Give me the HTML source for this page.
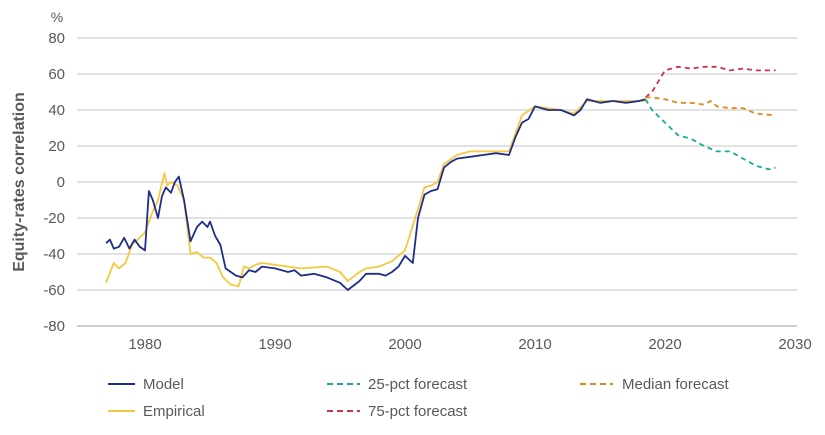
<!DOCTYPE html>
<html><head><meta charset="utf-8"><style>
html,body{margin:0;padding:0;background:#fff;}
svg{display:block;font-family:"Liberation Sans",Arial,sans-serif;}
</style></head><body>
<svg id="s" width="825" height="435" viewBox="0 0 825 435">
<g id="grid" stroke="#d9d9d9" stroke-width="1.5"></g>
<g id="yl" fill="#595959" font-size="15" text-anchor="end"></g>
<g id="xl" fill="#595959" font-size="15" text-anchor="middle"></g>
<text x="57" y="22" fill="#595959" font-size="14" text-anchor="middle">%</text>
<text transform="translate(24,182) rotate(-90)" fill="#595959" font-size="16" font-weight="bold" text-anchor="middle">Equity-rates correlation</text>
<g id="lines" fill="none" stroke-linejoin="round"></g>
<g font-size="15" fill="#595959">
<line x1="108" y1="384" x2="135" y2="384" stroke="#1f2d8a" stroke-width="2"/><text x="143" y="389">Model</text>
<line x1="108" y1="411" x2="135" y2="411" stroke="#f5c842" stroke-width="2"/><text x="143" y="416">Empirical</text>
<line x1="327" y1="384" x2="360" y2="384" stroke="#1aaa9b" stroke-width="2" stroke-dasharray="6,4"/><text x="368" y="389">25-pct forecast</text>
<line x1="327" y1="411" x2="360" y2="411" stroke="#d0304a" stroke-width="2" stroke-dasharray="6,4"/><text x="368" y="416">75-pct forecast</text>
<line x1="580" y1="384" x2="613" y2="384" stroke="#e0891a" stroke-width="2" stroke-dasharray="6,4"/><text x="622" y="389">Median forecast</text>
</g>
</svg>
<script>
var NS="http://www.w3.org/2000/svg";
function X(t){return 145+13*(t-1980);}
function Y(v){return 182-1.8*v;}
function el(p,n,a,txt){var e=document.createElementNS(NS,n);for(var k in a)e.setAttribute(k,a[k]);if(txt)e.textContent=txt;document.getElementById(p).appendChild(e);}
for(var v=80;v>=-80;v-=20){
 el("grid","line",{x1:77,x2:797,y1:Y(v),y2:Y(v),stroke:v==-80?"#bfbfbf":"#d9d9d9"});
 el("yl","text",{x:65,y:Y(v)+5},String(v));
}
for(var yr=1980;yr<=2030;yr+=10)el("xl","text",{x:X(yr),y:349},String(yr));
function line(d,c,dash){var p=[];for(var i=0;i<d.length;i+=2)p.push(X(d[i]).toFixed(1)+","+Y(d[i+1]).toFixed(1));
 var a={points:p.join(" "),stroke:c,"stroke-width":1.8};if(dash)a["stroke-dasharray"]=dash;el("lines","polyline",a);}
var emp=[1977,-56,1977.6,-45,1978,-48,1978.5,-45,1979,-35,1980,-28,1980.5,-18,1981,-10,1981.5,5,1981.7,-2,1982,0,1982.5,-2,1983,-10,1983.5,-40,1984,-39,1984.5,-42,1985,-42,1985.5,-45,1986,-53,1986.6,-57,1987.2,-58,1987.6,-47,1988,-48,1988.5,-46,1989,-45,1990,-46,1992,-48,1994,-47,1995,-50,1995.6,-55,1996.5,-50,1997,-48,1998,-47,1999,-44,2000,-38,2001,-15,2001.5,-3,2002,-2,2002.5,0,2003,10,2004,15,2005,17,2008,17,2008.5,27,2009,37,2010,42,2012,40,2013,38,2014,45,2018.5,45];
var mod=[1977,-34,1977.3,-32,1977.6,-37,1978,-36,1978.4,-31,1978.8,-37,1979.2,-32,1979.6,-36,1980,-38,1980.3,-5,1980.6,-10,1981,-20,1981.3,-8,1981.6,-3,1982,-6,1982.3,0,1982.6,3,1983,-10,1983.5,-33,1984,-25,1984.4,-22,1984.8,-25,1985,-22,1985.4,-30,1985.8,-35,1986.2,-48,1987,-52,1987.5,-53,1988,-49,1988.5,-50,1989,-47,1990,-48,1991,-50,1991.5,-49,1992,-52,1993,-51,1994,-53,1995,-56,1995.6,-60,1996.5,-55,1997,-51,1998,-51,1998.5,-52,1999,-50,1999.5,-47,2000,-41,2000.6,-45,2001,-20,2001.5,-7,2002,-5,2002.5,-4,2003,8,2003.5,11,2004,13,2005,14,2006,15,2007,16,2008,15,2008.5,25,2009,33,2009.5,35,2010,42,2011,40,2012,40,2013,37,2013.5,40,2014,46,2015,44,2016,45,2017,44,2018,45,2018.5,46];
line(emp,"#f5c842");
line(mod,"#1f2d8a");
line([2018.5,47,2019,50,2019.5,56,2020,62,2021,64,2022,63,2023,64,2024,64,2025,62,2026,63,2027,62,2028.5,62],"#d0304a","5,4");
line([2018.5,47,2019,47,2020,46,2021,44,2022,44,2023,43,2023.5,45,2024,42,2025,41,2026,41,2027,38,2028.5,37],"#e0891a","5,4");
line([2018.5,46,2019,40,2020,33,2021,26,2022,24,2023,20,2024,17,2025,17,2026,13,2027,9,2028,7,2028.5,8],"#1aaa9b","5,4");
</script>
</body></html>
